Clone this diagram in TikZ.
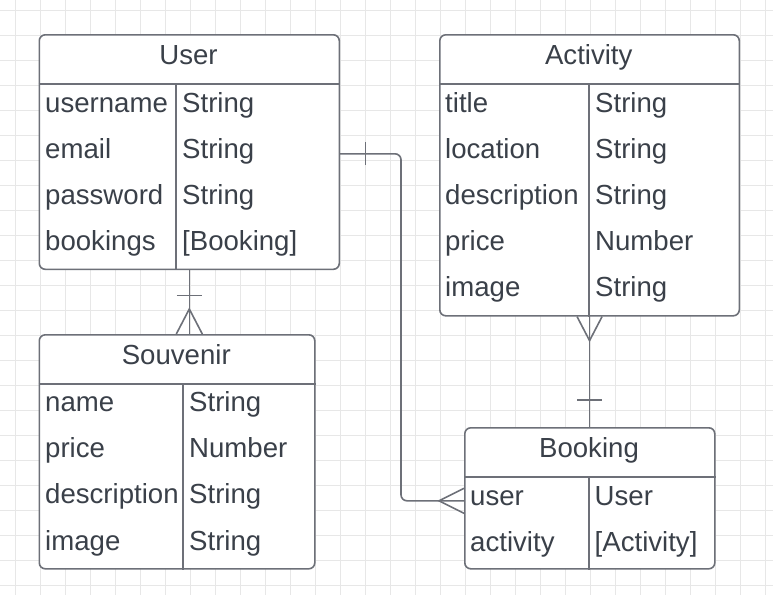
\documentclass[tikz,border=0pt]{standalone}
\usepackage{fontspec}
\setmainfont{Liberation Sans}
\definecolor{txt}{HTML}{3A4049}
\definecolor{ln}{HTML}{6D7078}
\definecolor{grd}{HTML}{E7E7E7}
\begin{document}
\begin{tikzpicture}[x=1pt,y=-1pt,
  tbl/.style={draw=ln, line width=1.6pt, rounded corners=6pt, fill=white, inner sep=0pt, anchor=north west},
  sep/.style={draw=ln, line width=1.6pt},
  conn/.style={draw=ln, line width=1.6pt},
  gridline/.style={draw=grd, line width=0.8pt},
  fld/.style={anchor=base west, inner sep=0pt, text=txt, font=\fontsize{27.6}{32}\selectfont},
  ttl/.style={anchor=base, inner sep=0pt, text=txt, font=\fontsize{27.6}{32}\selectfont}]
\fill[white] (0,0) rectangle (773,595);
\useasboundingbox (0,0) rectangle (773,595);
\foreach \x in {15,40,...,765} \draw[gridline] (\x,0) -- (\x,595);
\foreach \y in {10,35,...,585} \draw[gridline] (0,\y) -- (773,\y);

% User
\node[tbl, minimum width=300pt, minimum height=234.5pt] (user) at (38.5,34) {};
\draw[sep] ([yshift=-50pt]user.north west) -- ([yshift=-50pt]user.north east);
\draw[sep] ([xshift=137.5pt,yshift=-50pt]user.north west) -- ([xshift=137.5pt]user.south west);
\node[ttl] (usert) at (188.5,64) {User};
\node[fld] (u1) at (45,112) {username};
\node[fld] (u2) at (45,158.2) {email};
\node[fld] (u3) at (45,204.4) {password};
\node[fld] (u4) at (45,250.6) {bookings};
\node[fld] (u1t) at (182,112) {String};
\node[fld] (u2t) at (182,158.2) {String};
\node[fld] (u3t) at (182,204.4) {String};
\node[fld] (u4t) at (182,250.6) {[Booking]};

% Activity
\node[tbl, minimum width=299.5pt, minimum height=281pt] (act) at (439,34) {};
\draw[sep] ([yshift=-50pt]act.north west) -- ([yshift=-50pt]act.north east);
\draw[sep] ([xshift=150pt,yshift=-50pt]act.north west) -- ([xshift=150pt]act.south west);
\node[ttl] (actt) at (588.75,64) {Activity};
\node[fld] (a1) at (445,112) {title};
\node[fld] (a2) at (445,158.2) {location};
\node[fld] (a3) at (445,204.4) {description};
\node[fld] (a4) at (445,250.6) {price};
\node[fld] (a5) at (445,296.8) {image};
\node[fld] (a1t) at (595,112) {String};
\node[fld] (a2t) at (595,158.2) {String};
\node[fld] (a3t) at (595,204.4) {String};
\node[fld] (a4t) at (595,250.6) {Number};
\node[fld] (a5t) at (595,296.8) {String};

% Souvenir
\node[tbl, minimum width=275.5pt, minimum height=234pt] (souv) at (38.5,334) {};
\draw[sep] ([yshift=-50pt]souv.north west) -- ([yshift=-50pt]souv.north east);
\draw[sep] ([xshift=144.5pt,yshift=-50pt]souv.north west) -- ([xshift=144.5pt]souv.south west);
\node[ttl] (souvt) at (176.25,364) {Souvenir};
\node[fld] (s1) at (45,411.5) {name};
\node[fld] (s2) at (45,457.7) {price};
\node[fld] (s3) at (45,503.9) {description};
\node[fld] (s4) at (45,550.1) {image};
\node[fld] (s1t) at (189,411.5) {String};
\node[fld] (s2t) at (189,457.7) {Number};
\node[fld] (s3t) at (189,503.9) {String};
\node[fld] (s4t) at (189,550.1) {String};

% Booking
\node[tbl, minimum width=250pt, minimum height=141pt] (book) at (464,427) {};
\draw[sep] ([yshift=-50pt]book.north west) -- ([yshift=-50pt]book.north east);
\draw[sep] ([xshift=125pt,yshift=-50pt]book.north west) -- ([xshift=125pt]book.south west);
\node[ttl] (bookt) at (589,457) {Booking};
\node[fld] (b1) at (470,505) {user};
\node[fld] (b2) at (470,551.2) {activity};
\node[fld] (b1t) at (594.5,505) {User};
\node[fld] (b2t) at (594.5,551.2) {[Activity]};

% User -- Souvenir
\coordinate (us) at (user.south |- souv.north);
\draw[conn] (user.south) -- (us);
\draw[conn] ([xshift=-12.5pt,yshift=-25.5pt]user.south) -- ([xshift=12.5pt,yshift=-25.5pt]user.south);
\draw[conn] ([xshift=-13pt]us) -- ([yshift=25pt]us) -- ([xshift=13pt]us);

% User -- Booking
\coordinate (ue) at ([yshift=-1.75pt]user.east);
\coordinate (bw) at ([yshift=-2.5pt]book.west);
\draw[conn, rounded corners=6pt] (ue) -| ([xshift=-63pt]bw) -- (bw);
\draw[conn] ([xshift=25.5pt,yshift=11.5pt]ue) -- ([xshift=25.5pt,yshift=-11.5pt]ue);
\draw[conn] ([yshift=12.5pt]bw) -- ([xshift=-25pt]bw) -- ([yshift=-12.5pt]bw);

% Activity -- Booking
\coordinate (ab) at (act.south |- book.north);
\draw[conn] (act.south) -- (ab);
\draw[conn] ([xshift=-12.5pt]act.south) -- ([yshift=-24pt]act.south) -- ([xshift=12.5pt]act.south);
\draw[conn] ([xshift=-12.5pt,yshift=27pt]ab) -- ([xshift=12.5pt,yshift=27pt]ab);
\end{tikzpicture}
\end{document}
